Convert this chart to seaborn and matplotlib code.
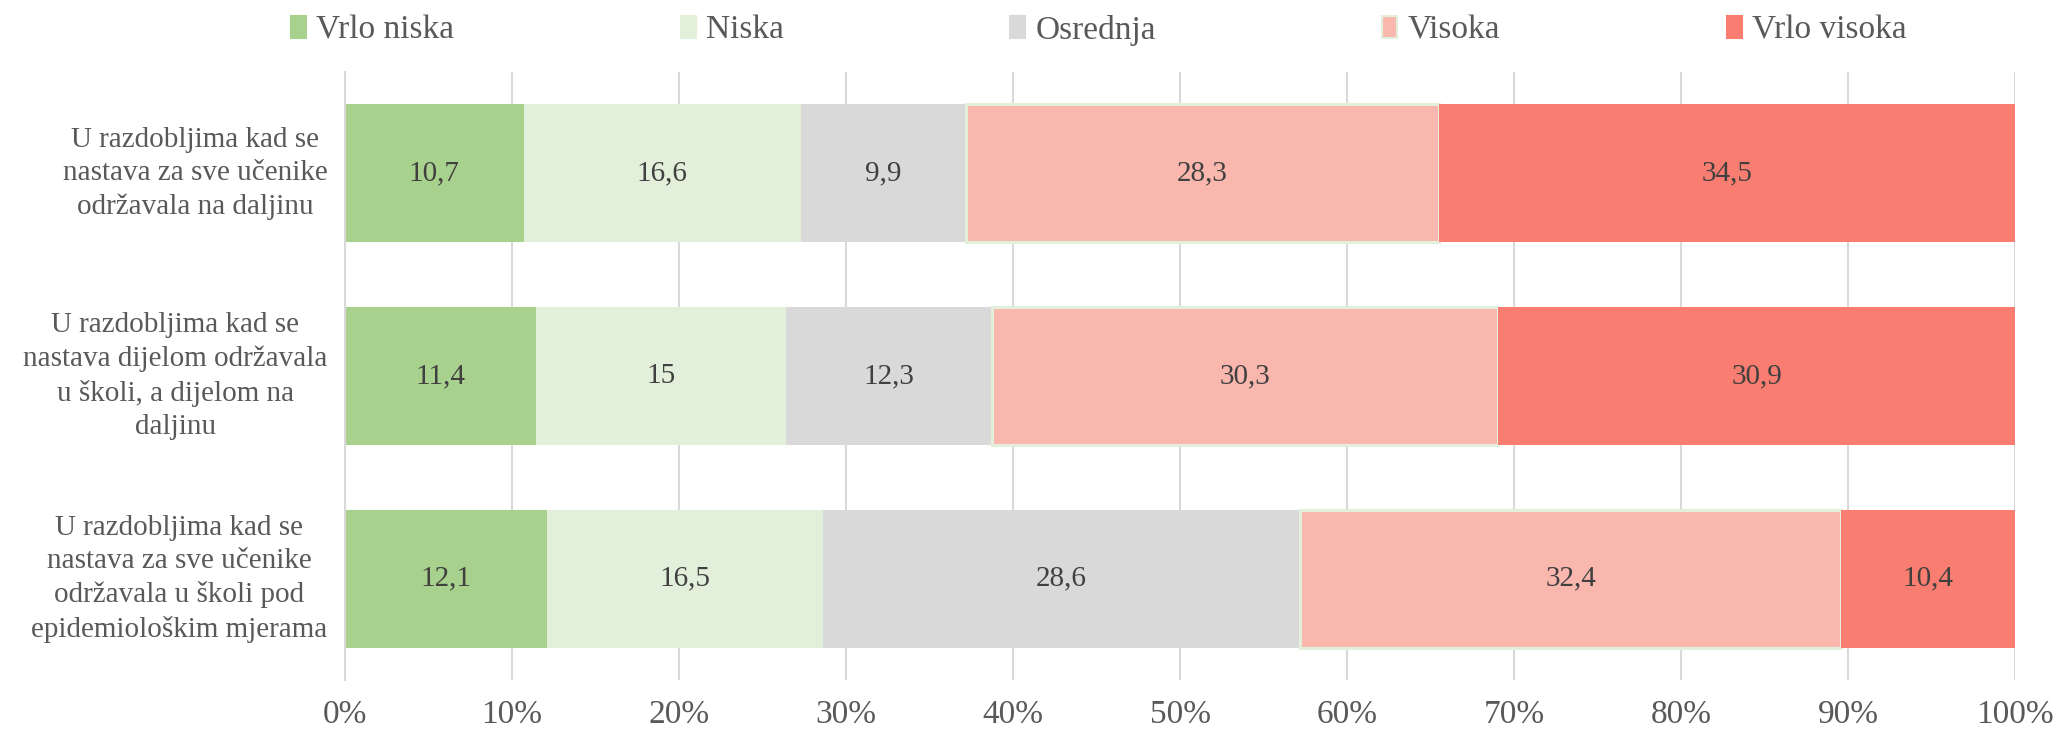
import matplotlib
matplotlib.use("Agg")
import matplotlib.pyplot as plt
import numpy as np
import seaborn as sns
from matplotlib.patches import Patch
from matplotlib.ticker import PercentFormatter

# Chart data (shares in %)
categories = [
    "U razdobljima kad se\nnastava za sve učenike\nodržavala na daljinu",
    "U razdobljima kad se\nnastava dijelom održavala\nu školi, a dijelom na\ndaljinu",
    "U razdobljima kad se\nnastava za sve učenike\nodržavala u školi pod\nepidemiološkim mjerama",
]
levels = ["Vrlo niska", "Niska", "Osrednja", "Visoka", "Vrlo visoka"]
vrlo_niska = [10.7, 11.4, 12.1]
niska = [16.6, 15.0, 16.5]
osrednja = [9.9, 12.3, 28.6]
visoka = [28.3, 30.3, 32.4]
vrlo_visoka = [34.5, 30.9, 10.4]
x_ticks = list(range(0, 101, 10))

colors = ["#A9D18E", "#E2EFDA", "#D9D9D9", "#F9B7AE", "#F97D70"]
edges = ["none", "none", "none", "#E2EFDA", "none"]
text_grey = "#595959"
label_grey = "#404040"
grid_grey = "#D9D9D9"

sns.set_style("white")
plt.rcParams["font.family"] = ["Liberation Serif", "DejaVu Serif"]

values = np.array([vrlo_niska, niska, osrednja, visoka, vrlo_visoka]).T
# 100% stacked: normalise each row to its total
shares = values / values.sum(axis=1, keepdims=True) * 100
lefts = np.cumsum(shares, axis=1) - shares

fig = plt.figure(figsize=(20.58, 7.33), dpi=100)
ax = fig.add_axes([345 / 2058, 1 - 680 / 733, (2015 - 345) / 2058, (680 - 72) / 733])

for j, level in enumerate(levels):
    sns.barplot(
        x=shares[:, j], y=categories, left=lefts[:, j], orient="h",
        color=colors[j], saturation=1, width=0.68, errorbar=None,
        edgecolor=edges[j], linewidth=2.2 if edges[j] != "none" else 0,
        zorder=2, ax=ax,
    )
    for i in range(len(categories)):
        txt = f"{values[i, j]:g}".replace(".", ",")
        ax.text(lefts[i, j] + shares[i, j] / 2, i, txt, ha="center", va="center",
                fontsize=21, color=label_grey, zorder=3)

ax.set_xlim(0, 100)
ax.set_ylim(len(categories) - 0.5, -0.5)
ax.set_xticks(x_ticks)
ax.xaxis.set_major_formatter(PercentFormatter(decimals=0))
ax.tick_params(axis="x", length=0, pad=14, labelsize=24, labelcolor=text_grey)
ax.tick_params(axis="y", which="major", length=0, labelleft=False)
ax.set_yticks([0.5, 1.5], minor=True)
ax.tick_params(axis="y", which="minor", length=7, width=1.5, color=grid_grey)
ax.set_xlabel("")
ax.set_ylabel("")

# category labels: right-aligned block, centred lines
for i, cat in enumerate(categories):
    ax.text(-0.0105, i, cat, transform=ax.get_yaxis_transform(), ha="right", va="center",
            multialignment="center", linespacing=1.35, fontsize=21, color=text_grey)

ax.grid(axis="x", color=grid_grey, linewidth=1.5, zorder=0)
ax.set_axisbelow(True)
for side in ["top", "right", "bottom"]:
    ax.spines[side].set_visible(False)
ax.spines["left"].set_color(grid_grey)
ax.spines["left"].set_linewidth(1.5)

handles = [Patch(facecolor=c, edgecolor=(e if e != "none" else c), linewidth=1.5, label=l)
           for c, e, l in zip(colors, edges, levels)]
fig.legend(handles=handles, loc="center left", bbox_to_anchor=(291 / 2058, 1 - 30 / 733),
           ncol=5, frameon=False, fontsize=24, labelcolor=text_grey,
           handlelength=0.45, handleheight=0.62, handletextpad=0.3,
           columnspacing=6.8, borderpad=0, borderaxespad=0)

fig.savefig("out.png", dpi=100)
